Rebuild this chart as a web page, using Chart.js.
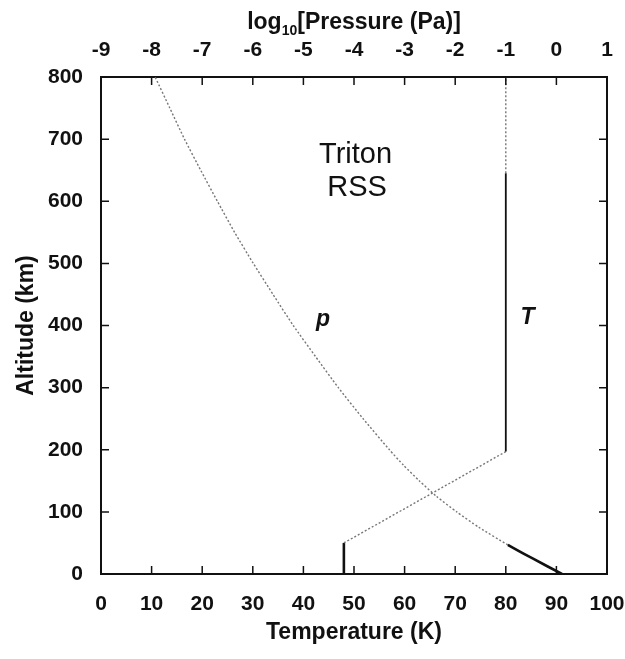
<!DOCTYPE html>
<html>
<head>
<meta charset="utf-8">
<script src="https://cdn.jsdelivr.net/npm/chart.js@4.4.1/dist/chart.umd.min.js"></script>
<style>
html, body { margin: 0; padding: 0; background: #fff; }
#wrap { width: 625px; height: 659px; }
</style>
</head>
<body>
<div id="wrap"><canvas id="myChart" width="625" height="659"></canvas></div>
<script>
// temperature profile (K) vs altitude (km)
var tempAltitude = [0, 50, 197, 645, 800];
var tempKelvin = [48, 48, 80, 80, 80];

// log10 pressure (Pa) vs altitude (km)
var pressAltitude = [0, 25, 47, 75, 100, 125, 150, 175, 200, 250, 300, 350, 400, 450, 500, 550, 600, 650, 700, 750, 800];
var pressLog = [0.11, -0.47, -0.96, -1.53, -1.97, -2.37, -2.71, -3.02, -3.30, -3.82, -4.31, -4.76, -5.20, -5.60, -5.99, -6.36, -6.70, -7.03, -7.35, -7.64, -7.93];

// tick labels
var tempTicks = [0, 10, 20, 30, 40, 50, 60, 70, 80, 90, 100];
var pressTicks = [-9, -8, -7, -6, -5, -4, -3, -2, -1, 0, 1];
var altTicks = [0, 100, 200, 300, 400, 500, 600, 700, 800];

var FONT = "'Liberation Sans', Arial, Helvetica, sans-serif";

function pairs(xs, ys) {
    return xs.map(function (x, i) { return { x: x, y: ys[i] }; });
}

// which temperature segments are the dotted parts
var tempDotted = [false, true, false, true];

function setTicks(list) {
    return function (scale) {
        scale.ticks = list.map(function (v) { return { value: v }; });
    };
}

var innerTicks = {
    id: 'innerTicks',
    afterDraw: function (chart) {
        var ctx = chart.ctx, a = chart.chartArea, s = chart.scales;
        var len = 8;
        ctx.save();
        ctx.strokeStyle = '#111';
        ctx.lineWidth = 1.5;
        ctx.beginPath();
        s.x.ticks.forEach(function (t) {
            var px = s.x.getPixelForValue(t.value);
            ctx.moveTo(px, a.bottom); ctx.lineTo(px, a.bottom - len);
        });
        s.x2.ticks.forEach(function (t) {
            var px = s.x2.getPixelForValue(t.value);
            ctx.moveTo(px, a.top); ctx.lineTo(px, a.top + len);
        });
        s.y.ticks.forEach(function (t) {
            var py = s.y.getPixelForValue(t.value);
            ctx.moveTo(a.left, py); ctx.lineTo(a.left + len, py);
            ctx.moveTo(a.right, py); ctx.lineTo(a.right - len, py);
        });
        ctx.stroke();

        // top axis title with subscript
        ctx.fillStyle = '#111';
        ctx.textBaseline = 'alphabetic';
        var big = 'bold 23px ' + FONT, small = 'bold 14px ' + FONT;
        var t1 = 'log', t2 = '10', t3 = '[Pressure (Pa)]';
        ctx.font = big; var w1 = ctx.measureText(t1).width, w3 = ctx.measureText(t3).width;
        ctx.font = small; var w2 = ctx.measureText(t2).width;
        var x0 = (a.left + a.right) / 2 - (w1 + w2 + w3) / 2, base = 29;
        ctx.font = big; ctx.fillText(t1, x0, base);
        ctx.font = small; ctx.fillText(t2, x0 + w1, base + 6);
        ctx.font = big; ctx.fillText(t3, x0 + w1 + w2, base);

        // labels inside the plot
        ctx.textAlign = 'center';
        ctx.textBaseline = 'middle';
        ctx.font = '29px ' + FONT;
        ctx.fillText('Triton', s.x.getPixelForValue(50.3), s.y.getPixelForValue(674));
        ctx.fillText('RSS', s.x.getPixelForValue(50.6), s.y.getPixelForValue(622));
        ctx.font = 'italic bold 23px ' + FONT;
        ctx.fillText('p', s.x.getPixelForValue(43.9), s.y.getPixelForValue(410));
        ctx.fillText('T', s.x.getPixelForValue(84.3), s.y.getPixelForValue(412));
        ctx.restore();
    }
};

function noSidePadding(h) {
    return function (s) { s.height = h; s.paddingLeft = 0; s.paddingRight = 0; };
}

var tickFont = { family: FONT, size: 21, weight: 'bold' };
var titleFont = { family: FONT, size: 23, weight: 'bold' };

var ctx = document.getElementById('myChart').getContext('2d');
var myChart = new Chart(ctx, {
    type: 'scatter',
    data: {
        datasets: [
            {
                label: 'T',
                data: pairs(tempKelvin, tempAltitude),
                xAxisID: 'x',
                yAxisID: 'y',
                showLine: true,
                pointRadius: 0,
                borderColor: '#111',
                borderWidth: 1.8,
                segment: {
                    borderDash: function (c) { return tempDotted[c.p0DataIndex] ? [2, 2] : undefined; },
                    borderColor: function (c) { return tempDotted[c.p0DataIndex] ? '#777' : '#111'; },
                    borderWidth: function (c) { return c.p0DataIndex === 0 ? 2.6 : (tempDotted[c.p0DataIndex] ? 1.4 : 1.8); }
                }
            },
            {
                label: 'p',
                data: pairs(pressLog, pressAltitude),
                xAxisID: 'x2',
                yAxisID: 'y',
                showLine: true,
                pointRadius: 0,
                tension: 0.2,
                borderColor: '#777',
                borderWidth: 1.4,
                segment: {
                    borderDash: function (c) { return c.p0.parsed.y < 47 ? undefined : [2, 2]; },
                    borderColor: function (c) { return c.p0.parsed.y < 47 ? '#111' : '#777'; },
                    borderWidth: function (c) { return c.p0.parsed.y < 47 ? 2.6 : 1.4; }
                }
            }
        ]
    },
    options: {
        responsive: false,
        animation: false,
        layout: { padding: 0 },
        plugins: {
            legend: { display: false },
            tooltip: { enabled: false }
        },
        scales: {
            x: {
                type: 'linear', position: 'bottom', min: 0, max: 100,
                afterBuildTicks: setTicks(tempTicks),
                afterFit: noSidePadding(85),
                grid: { display: false },
                border: { display: true, color: '#111', width: 2 },
                ticks: { color: '#111', padding: 10, font: tickFont },
                title: { display: true, text: 'Temperature (K)', color: '#111', padding: { top: 4, bottom: 13 }, font: titleFont }
            },
            x2: {
                type: 'linear', position: 'top', min: -9, max: 1,
                afterBuildTicks: setTicks(pressTicks),
                afterFit: noSidePadding(77),
                grid: { display: false },
                border: { display: true, color: '#111', width: 2 },
                ticks: { color: '#111', padding: 6, font: tickFont }
            },
            y: {
                type: 'linear', position: 'left', min: 0, max: 800,
                afterBuildTicks: setTicks(altTicks),
                afterFit: function (s) { s.width = 101; },
                grid: { display: false },
                border: { display: true, color: '#111', width: 2 },
                ticks: { color: '#111', padding: 10, font: tickFont },
                title: { display: true, text: 'Altitude (km)', color: '#111', padding: { top: 13, bottom: 0 }, font: titleFont }
            },
            y2: {
                type: 'linear', position: 'right', min: 0, max: 800,
                afterFit: function (s) { s.width = 18; },
                grid: { display: false },
                border: { display: true, color: '#111', width: 2 },
                ticks: { display: false }
            }
        }
    },
    plugins: [innerTicks]
});
</script>
</body>
</html>
